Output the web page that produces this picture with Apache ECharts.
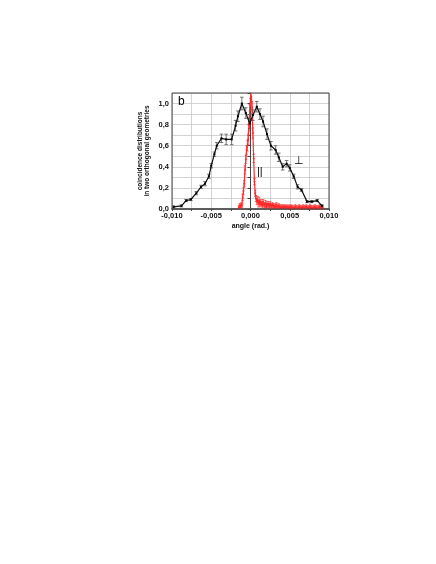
<!DOCTYPE html>
<html>
<head>
<meta charset="utf-8">
<script src="https://cdn.jsdelivr.net/npm/echarts@6/dist/echarts.min.js"></script>
<style>
  html, body { margin: 0; padding: 0; background: #fff; }
  #chart { width: 436px; height: 564px; }
</style>
</head>
<body>
<div id="chart"></div>
<script>
    // perpendicular geometry (black), [angle, value, error]
    var perpX = [-0.0098, -0.0088, -0.0082, -0.0076, -0.0069, -0.0063, -0.0058, -0.0053, -0.0050, -0.0046,
                 -0.0043, -0.0037, -0.0031, -0.0024, -0.0019, -0.0016, -0.0011, -0.0006, -0.0001, 0.0003,
                 0.0008, 0.0012, 0.0016, 0.0021, 0.0026, 0.0032, 0.0036, 0.0041, 0.0046, 0.0050,
                 0.0055, 0.0060, 0.0065, 0.0072, 0.0078, 0.0085, 0.0091];
    var perpY = [0.02, 0.03, 0.08, 0.09, 0.15, 0.21, 0.24, 0.31, 0.41, 0.52,
                 0.60, 0.67, 0.66, 0.66, 0.79, 0.88, 1.00, 0.91, 0.81, 0.89,
                 0.97, 0.90, 0.83, 0.71, 0.60, 0.56, 0.49, 0.40, 0.43, 0.39,
                 0.31, 0.21, 0.18, 0.07, 0.07, 0.08, 0.03];
    var perpErr = [0.01, 0.01, 0.01, 0.01, 0.015, 0.015, 0.02, 0.02, 0.02, 0.02,
                   0.03, 0.04, 0.05, 0.05, 0.05, 0.05, 0.06, 0.05, 0.05, 0.05,
                   0.05, 0.05, 0.05, 0.05, 0.04, 0.04, 0.04, 0.03, 0.03, 0.03,
                   0.02, 0.02, 0.015, 0.01, 0.01, 0.01, 0.01];

    // parallel geometry (red)
    var parX = [-0.0015, -0.0014, -0.0013, -0.0012, -0.0011, -0.0010, -0.0009, -0.0008, -0.0007, -0.0006,
                -0.0005, -0.0004, -0.0003, -0.0002, -0.0001, 0.0000, 0.0001, 0.0002, 0.0003, 0.0004,
                0.0005, 0.0006, 0.0007, 0.0008, 0.0009, 0.0010, 0.0011, 0.0012, 0.0013, 0.0014,
                0.0015, 0.0016, 0.0017, 0.0018, 0.0019, 0.0020, 0.0021, 0.0022, 0.0023, 0.0024,
                0.0025, 0.0026, 0.0027, 0.0028, 0.0029, 0.0030, 0.0031, 0.0032, 0.0033, 0.0034,
                0.0035, 0.0036, 0.0037, 0.0038, 0.0039, 0.0040, 0.0041, 0.0042, 0.0043, 0.0044,
                0.0045, 0.0046, 0.0047, 0.0048, 0.0049, 0.0050, 0.0051, 0.0052, 0.0053, 0.0054,
                0.0055, 0.0056, 0.0057, 0.0058, 0.0059, 0.0060, 0.0061, 0.0062, 0.0063, 0.0064,
                0.0065, 0.0066, 0.0067, 0.0068, 0.0069, 0.0070, 0.0071, 0.0072, 0.0073, 0.0074,
                0.0075, 0.0076, 0.0077, 0.0078, 0.0079, 0.0080, 0.0081, 0.0082, 0.0083, 0.0084,
                0.0085, 0.0086, 0.0087, 0.0088, 0.0089, 0.0090, 0.0091, 0.0092];
    var parY = [0.01, 0.03, 0.02, 0.04, 0.03, 0.11, 0.17, 0.24, 0.37, 0.47,
                0.56, 0.60, 0.66, 0.80, 0.93, 1.05, 1.07, 0.96, 0.72, 0.48,
                0.26, 0.15, 0.10, 0.07, 0.09, 0.05, 0.08, 0.04, 0.07, 0.05,
                0.03, 0.07, 0.04, 0.03, 0.06, 0.02, 0.05, 0.03, 0.05, 0.02,
                0.05, 0.03, 0.02, 0.04, 0.03, 0.01, 0.03, 0.02, 0.04, 0.02,
                0.01, 0.03, 0.02, 0.01, 0.02, 0.01, 0.02, 0.01, 0.02, 0.01,
                0.01, 0.02, 0.01, 0.00, 0.02, 0.01, 0.01, 0.02, 0.01, 0.01,
                0.00, 0.01, 0.02, 0.01, 0.01, 0.00, 0.01, 0.02, 0.01, 0.01,
                0.01, 0.00, 0.02, 0.01, 0.01, 0.01, 0.02, 0.01, 0.00, 0.01,
                0.01, 0.02, 0.01, 0.01, 0.00, 0.01, 0.01, 0.02, 0.01, 0.01,
                0.00, 0.01, 0.01, 0.02, 0.01, 0.01, 0.00, 0.01];
    var parErr = [0.02, 0.02, 0.02, 0.02, 0.02, 0.03, 0.03, 0.03, 0.04, 0.04,
                  0.04, 0.05, 0.05, 0.06, 0.06, 0.07, 0.07, 0.06, 0.05, 0.04,
                  0.03, 0.03, 0.03, 0.03, 0.03, 0.03, 0.03, 0.02, 0.02, 0.02];

    var xTicks = [-0.010, -0.005, 0.000, 0.005, 0.010];

    function pairs(xs, ys) {
        var out = [];
        for (var i = 0; i < xs.length; i++) out.push([xs[i], ys[i]]);
        return out;
    }
    function bars(xs, ys, errs, def) {
        var out = [];
        for (var i = 0; i < xs.length; i++) {
            var e = errs[i] !== undefined ? errs[i] : def;
            out.push([xs[i], ys[i] - e, ys[i] + e]);
        }
        return out;
    }
    function errorBarItem(capHalf, color) {
        return function (params, api) {
            var lo = api.coord([api.value(0), api.value(1)]);
            var hi = api.coord([api.value(0), api.value(2)]);
            var st = { stroke: color, lineWidth: 0.8 };
            return {
                type: 'group',
                children: [
                    { type: 'line', shape: { x1: lo[0], y1: lo[1], x2: hi[0], y2: hi[1] }, style: st },
                    { type: 'line', shape: { x1: lo[0] - capHalf, y1: lo[1], x2: lo[0] + capHalf, y2: lo[1] }, style: st },
                    { type: 'line', shape: { x1: hi[0] - capHalf, y1: hi[1], x2: hi[0] + capHalf, y2: hi[1] }, style: st }
                ]
            };
        };
    }

    var myChart = echarts.init(document.getElementById('chart'));
    var font = 'Liberation Sans, Arial, sans-serif';

    var option = {
        animation: false,
        backgroundColor: '#fff',
        grid: { left: 172, right: 107, top: 93, bottom: 355 },
        xAxis: {
            type: 'value',
            min: -0.010, max: 0.010, interval: 0.0025,
            name: 'angle (rad.)',
            nameLocation: 'middle',
            nameGap: 14,
            nameTextStyle: { fontFamily: font, fontSize: 7, fontWeight: 'bold', color: '#111' },
            axisLine: { onZero: false, lineStyle: { color: '#777', width: 2 } },
            axisTick: { show: true, length: 2, lineStyle: { color: '#444' } },
            axisLabel: {
                fontFamily: font, fontSize: 7.5, fontWeight: 'bold', color: '#111', margin: 3,
                formatter: function (v) {
                    for (var i = 0; i < xTicks.length; i++) {
                        if (Math.abs(v - xTicks[i]) < 1e-7) {
                            var s = Math.abs(xTicks[i]) < 1e-9 ? '0.000' : xTicks[i].toFixed(3);
                            return s.replace('.', ',');
                        }
                    }
                    return '';
                }
            },
            splitLine: { show: true, lineStyle: { color: '#c8c8c8', width: 0.8 } }
        },
        yAxis: {
            type: 'value',
            min: 0, max: 1.1, interval: 0.1,
            name: 'coincidence distributions\nin two orthogonal geometries',
            nameLocation: 'middle',
            nameGap: 21,
            nameTextStyle: { fontFamily: font, fontSize: 6.5, fontWeight: 'bold', color: '#111', lineHeight: 7 },
            axisLine: { show: true, lineStyle: { color: '#444', width: 1 } },
            axisTick: { show: true, length: 3, lineStyle: { color: '#444' } },
            axisLabel: {
                fontFamily: font, fontSize: 7.5, fontWeight: 'bold', color: '#111', margin: 3,
                formatter: function (v) {
                    var k = Math.round(v * 10);
                    if (k % 2 !== 0 || k > 10) return '';
                    return (k / 10).toFixed(1).replace('.', ',');
                }
            },
            splitLine: { show: true, lineStyle: { color: '#c8c8c8', width: 0.8 } }
        },
        graphic: [
            { type: 'rect', shape: { x: 172, y: 93, width: 157, height: 116 }, style: { fill: 'none', stroke: '#444', lineWidth: 1 }, z: 10 },
            { type: 'text', left: 178, top: 96, style: { text: 'b', font: '12px ' + font, fill: '#000' }, z: 11 },
            { type: 'text', left: 294, top: 155, style: { text: '\u22a5', font: '11px ' + font, fill: '#000' }, z: 11 },
            { type: 'text', left: 257, top: 166, style: { text: '||', font: '11px ' + font, fill: '#000' }, z: 11 }
        ],
        series: [
            {
                name: 'par-err',
                type: 'custom',
                renderItem: errorBarItem(1.2, '#ff4040'),
                data: bars(parX, parY, parErr, 0.02),
                clip: true,
                z: 3
            },
            {
                name: 'parallel',
                type: 'line',
                data: pairs(parX, parY),
                symbol: 'circle',
                symbolSize: 2,
                itemStyle: { color: '#ff2a2a' },
                lineStyle: { color: '#ff2a2a', width: 1.2 },
                clip: true,
                z: 4
            },
            {
                name: 'perp-err',
                type: 'custom',
                renderItem: errorBarItem(1.8, '#555'),
                data: bars(perpX, perpY, perpErr, 0.01),
                clip: true,
                z: 5
            },
            {
                name: 'perpendicular',
                type: 'line',
                data: pairs(perpX, perpY),
                symbol: 'rect',
                symbolSize: [2, 2],
                itemStyle: { color: '#000' },
                lineStyle: { color: '#111', width: 1.2 },
                clip: true,
                z: 6
            }
        ]
    };

    myChart.setOption(option);
</script>
</body>
</html>
